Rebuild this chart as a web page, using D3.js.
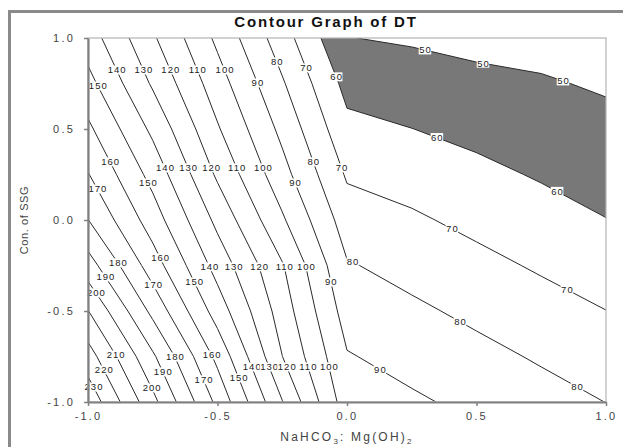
<!DOCTYPE html>
<html>
<head>
<meta charset="utf-8">
<script src="https://cdn.jsdelivr.net/npm/d3@7"></script>
<style>
  body { margin: 0; background: #fff; }
  text { font-family: "Liberation Sans", Arial, sans-serif; }
</style>
</head>
<body>
<script>
// grid of the design space, DT
const xLevels = [-1, -0.75, -0.5, -0.25, 0, 0.25, 0.5, 0.75, 1];
const yLevels = [1, 0.75, 0.5, 0.25, 0, -0.25, -0.5, -0.75, -1];
const dtGrid = [
  [145.0, 121.4,  97.9,  74.5, 50.2, 48.9, 47.3, 46.8, 45.1],
  [153.2, 128.7, 104.5,  81.1, 56.9, 54.5, 52.4, 50.9, 48.9],
  [162.0, 137.8, 111.0,  87.4, 62.6, 60.1, 57.4, 55.0, 52.6],
  [170.5, 146.6, 118.4,  93.6, 68.8, 66.0, 62.4, 59.1, 56.4],
  [180.2, 155.0, 127.4, 101.4, 74.9, 71.4, 67.5, 63.9, 60.2],
  [194.5, 164.9, 136.1, 110.8, 80.8, 76.7, 72.7, 68.8, 65.2],
  [210.3, 177.3, 145.4, 115.2, 85.6, 81.8, 77.8, 73.9, 70.1],
  [224.5, 191.6, 157.3, 120.1, 90.7, 86.5, 82.8, 78.9, 75.1],
  [237.0, 202.9, 167.5, 130.4, 94.5, 91.5, 87.5, 83.7, 79.9]
];
const contourLevels = [50, 60, 70, 80, 90, 100, 110, 120, 130, 140, 150, 160, 170, 180, 190, 200, 210, 220, 230];
const shadedBand = [50, 60];
const tickValues = [-1, -0.5, 0, 0.5, 1];
const tickLabels = ["-1.0", "-0.5", "0.0", "0.5", "1.0"];

// contour labels: [level, y] sits where the line crosses y, [level, x] where it crosses x
const labelsAtY = [
  [150, 0.736], [140, 0.824], [130, 0.824], [120, 0.824], [110, 0.824], [100, 0.824],
  [90, 0.753], [80, 0.868], [70, 0.835], [60, 0.786],
  [160, 0.319], [170, 0.170], [150, 0.203], [140, 0.286], [130, 0.286], [120, 0.286],
  [110, 0.286], [100, 0.286], [90, 0.203], [80, 0.319], [70, 0.286],
  [180, -0.236], [190, -0.313], [200, -0.401], [160, -0.209], [170, -0.357], [150, -0.341],
  [140, -0.258], [130, -0.258], [120, -0.258], [110, -0.258], [100, -0.258], [90, -0.341], [80, -0.231],
  [210, -0.742], [220, -0.824], [230, -0.918], [180, -0.753], [190, -0.835], [200, -0.923],
  [160, -0.742], [170, -0.879], [150, -0.868], [140, -0.808], [130, -0.808], [120, -0.808],
  [110, -0.808], [100, -0.808]
];
const labelsAtX = [
  [50, 0.301], [50, 0.525], [50, 0.834], [60, 0.347], [60, 0.811],
  [70, 0.405], [70, 0.849], [80, 0.436], [80, 0.888], [90, 0.127]
];

const width = 623, height = 447;
const svg = d3.select('body').append('svg')
  .attr('width', width)
  .attr('height', height);

svg.append('rect').attr('width', width).attr('height', height).attr('fill', '#fff');

// outer frame (runs off the right and bottom of the picture)
svg.append('rect')
  .attr('x', 9.5).attr('y', 11.5)
  .attr('width', 700).attr('height', 500)
  .attr('fill', 'none')
  .attr('stroke', '#8a8a8a')
  .attr('stroke-width', 3);

const x = d3.scaleLinear().domain([-1, 1]).range([88, 606]);
const y = d3.scaleLinear().domain([-1, 1]).range([402, 38]);

const n = xLevels.length, m = yLevels.length;
// d3.contours puts grid value i at coordinate i + 0.5
const gx = d3.scaleLinear().domain([0.5, n - 0.5]).range([x(xLevels[0]), x(xLevels[n - 1])]);
const gy = d3.scaleLinear().domain([0.5, m - 0.5]).range([y(yLevels[0]), y(yLevels[m - 1])]);

const contours = d3.contours()
  .size([n, m])
  .thresholds(contourLevels)(dtGrid.flat());

const path = d3.geoPath(d3.geoTransform({
  point: function(px, py) { this.stream.point(gx(px), gy(py)); }
}));

svg.append('clipPath').attr('id', 'plotclip')
  .append('rect')
  .attr('x', x(-1)).attr('y', y(1))
  .attr('width', x(1) - x(-1)).attr('height', y(-1) - y(1));

const plot = svg.append('g').attr('clip-path', 'url(#plotclip)');

const byLevel = v => contours.find(c => c.value === v);

// shaded band between 50 and 60
plot.append('path')
  .attr('d', path(byLevel(shadedBand[0])))
  .attr('fill', '#787878');
plot.append('path')
  .attr('d', path(byLevel(shadedBand[1])))
  .attr('fill', '#fff');

plot.selectAll('.iso')
  .data(contours)
  .enter()
  .append('path')
  .attr('class', 'iso')
  .attr('d', path)
  .attr('fill', 'none')
  .attr('stroke', '#2a2a2a')
  .attr('stroke-width', 1);

// where a contour crosses a horizontal (or vertical) line, in pixels
function crossing(level, value, horizontal) {
  const c = byLevel(level);
  const target = horizontal ? y(value) : x(value);
  for (const poly of c.coordinates) {
    for (const ring of poly) {
      for (let i = 1; i < ring.length; i++) {
        const a = [gx(ring[i - 1][0]), gy(ring[i - 1][1])];
        const b = [gx(ring[i][0]), gy(ring[i][1])];
        const k = horizontal ? 1 : 0, o = 1 - k;
        if (a[k] === b[k]) continue;
        if ((a[k] - target) * (b[k] - target) > 0) continue;
        const t = (target - a[k]) / (b[k] - a[k]);
        const p = a[o] + t * (b[o] - a[o]);
        const lo = horizontal ? x(-1) + 0.5 : y(1) + 0.5;
        const hi = horizontal ? x(1) - 0.5 : y(-1) - 0.5;
        if (p > lo && p < hi) return horizontal ? [p, target] : [target, p];
      }
    }
  }
  return null;
}

const labelSpots = labelsAtY.map(d => ({ v: d[0], at: crossing(d[0], d[1], true) }))
  .concat(labelsAtX.map(d => ({ v: d[0], at: crossing(d[0], d[1], false) })))
  .filter(d => d.at);

const labels = svg.append('g');
labelSpots.forEach(d => {
  const g = labels.append('g');
  const t = g.append('text')
    .attr('x', d.at[0] + 0.5)
    .attr('y', d.at[1])
    .attr('dy', '0.36em')
    .attr('text-anchor', 'middle')
    .attr('font-size', 9.5)
    .attr('letter-spacing', 1)
    .attr('fill', '#222')
    .text(d.v);
  const bb = t.node().getBBox();
  g.insert('rect', 'text')
    .attr('x', bb.x - 0.5).attr('y', bb.y + 1)
    .attr('width', bb.width).attr('height', bb.height - 2)
    .attr('fill', '#fff');
});

// plot box
svg.append('rect')
  .attr('x', x(-1)).attr('y', y(1))
  .attr('width', x(1) - x(-1)).attr('height', y(-1) - y(1))
  .attr('fill', 'none')
  .attr('stroke', '#b4b4b4')
  .attr('stroke-width', 1.2);

const yAxis = svg.append('g')
  .attr('transform', `translate(${x(-1)},0)`)
  .call(d3.axisLeft(y).tickValues(tickValues)
    .tickFormat((d, i) => tickLabels[i])
    .tickSize(4).tickSizeOuter(0).tickPadding(9));

const xAxis = svg.append('g')
  .attr('transform', `translate(0,${y(-1)})`)
  .call(d3.axisBottom(x).tickValues(tickValues)
    .tickFormat((d, i) => tickLabels[i])
    .tickSize(4).tickSizeOuter(0).tickPadding(6));

[yAxis, xAxis].forEach(a => {
  a.select('.domain').attr('stroke', '#808080').attr('stroke-width', 2.2);
  a.selectAll('.tick line').attr('stroke', '#808080').attr('stroke-width', 1.5);
  a.selectAll('.tick text')
    .attr('font-family', '"Liberation Sans", Arial, sans-serif')
    .attr('font-size', 11)
    .attr('letter-spacing', 2.2)
    .attr('fill', '#444');
});

svg.append('text')
  .attr('x', 326).attr('y', 27)
  .attr('text-anchor', 'middle')
  .attr('font-size', 15)
  .attr('font-weight', 'bold')
  .attr('letter-spacing', 1.8)
  .attr('fill', '#111')
  .text('Contour Graph of DT');

svg.append('text')
  .attr('transform', 'translate(28,220) rotate(-90)')
  .attr('text-anchor', 'middle')
  .attr('font-size', 11)
  .attr('letter-spacing', 0.6)
  .attr('fill', '#444')
  .text('Con. of SSG');

const xt = svg.append('text')
  .attr('x', 347).attr('y', 441)
  .attr('text-anchor', 'middle')
  .attr('font-size', 12)
  .attr('letter-spacing', 2.2)
  .attr('fill', '#444');
xt.append('tspan').text('NaHCO');
xt.append('tspan').attr('font-size', 8).attr('dy', 3).text('3');
xt.append('tspan').attr('dy', -3).text(': Mg(OH)');
xt.append('tspan').attr('font-size', 8).attr('dy', 3).text('2');
</script>
</body>
</html>
